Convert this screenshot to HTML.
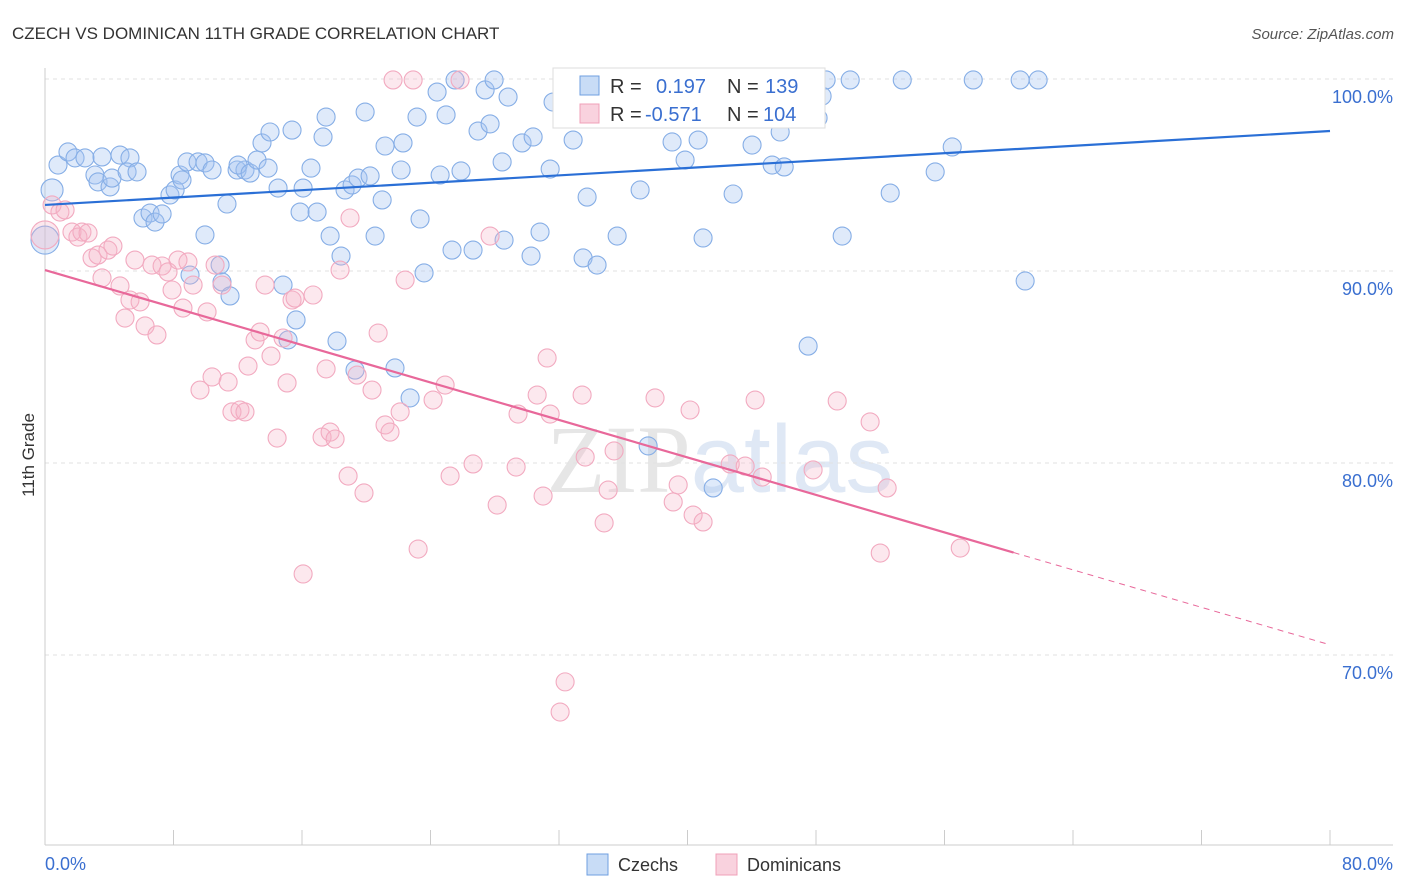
<!DOCTYPE html>
<html><head><meta charset="utf-8">
<style>
body{margin:0;background:#fff;font-family:"Liberation Sans",sans-serif;}
svg{display:block}
</style></head>
<body>
<svg id="chart" width="1406" height="892" viewBox="0 0 1406 892">
<text x="12" y="39" font-size="17" fill="#333">CZECH VS DOMINICAN 11TH GRADE CORRELATION CHART</text>
<text x="1394" y="39" font-size="15" fill="#555" font-style="italic" text-anchor="end">Source: ZipAtlas.com</text>
<text transform="translate(34,455) rotate(-90)" font-size="17" fill="#333" text-anchor="middle">11th Grade</text>
<text x="720" y="492" font-size="96" fill="#e6e6e6" text-anchor="middle" font-family="Liberation Serif,serif">ZIP<tspan fill="#dfe8f5" font-family="Liberation Sans,sans-serif">atlas</tspan></text>
<g id="grid"></g>
<g id="axes"></g>
<g id="points"></g>
<g id="trends"></g>
<g>
<rect x="553" y="68" width="272" height="60" fill="#fff" stroke="#ddd"/>
<rect x="580" y="76" width="19" height="19" fill="rgba(164,196,240,0.6)" stroke="#6f9fe0"/>
<text y="93" font-size="20" fill="#333"><tspan x="610">R =</tspan><tspan x="656" fill="#3a6fd0">0.197</tspan><tspan x="727">N =</tspan><tspan x="765" fill="#3a6fd0">139</tspan></text>
<rect x="580" y="104" width="19" height="19" fill="rgba(245,180,200,0.6)" stroke="#f0a0b8"/>
<text y="121" font-size="20" fill="#333"><tspan x="610">R =</tspan><tspan x="645" fill="#3a6fd0">-0.571</tspan><tspan x="727">N =</tspan><tspan x="763" fill="#3a6fd0">104</tspan></text>
</g>
<g>
<rect x="587" y="854" width="21" height="21" fill="rgba(164,196,240,0.6)" stroke="#6f9fe0"/>
<text x="618" y="871" font-size="18" fill="#333">Czechs</text>
<rect x="716" y="854" width="21" height="21" fill="rgba(245,180,200,0.6)" stroke="#f0a0b8"/>
<text x="747" y="871" font-size="18" fill="#333">Dominicans</text>
</g>
<text x="45" y="870" font-size="18" fill="#3a6fd0">0.0%</text>
<text x="1393" y="870" font-size="18" fill="#3a6fd0" text-anchor="end">80.0%</text>
</svg>
<script>
const yTicks=[100,90,80,70];
const yTickLabels=["100.0%","90.0%","80.0%","70.0%"];
const xTicks=[0,8,16,24,32,40,48,56,64,72,80];
const czechX=[0.44,0,0.81,1.43,1.87,2.49,3.55,4.67,5.29,3.11,3.3,4.05,4.17,5.11,5.73,6.1,6.54,6.85,7.29,7.78,8.1,8.41,8.53,8.84,9.53,9.96,10.4,9.03,9.96,10.9,11.02,11.52,11.33,11.96,12.45,12.02,12.77,13.2,13.51,14.01,13.89,14.51,14.82,15.13,15.38,15.63,15.88,16.07,16.56,16.94,17.31,17.5,17.75,18.18,18.43,18.68,19.12,19.3,19.49,19.93,20.24,20.55,20.99,21.17,21.79,22.29,22.17,22.73,23.16,23.35,23.6,24.41,24.6,24.97,25.34,25.53,25.9,26.65,26.96,27.4,27.71,27.96,28.46,28.58,28.83,29.7,30.26,30.39,30.82,31.45,31.63,32.88,33.5,33.75,34.37,35.62,35.8,37.05,37.55,39.04,39.85,40.66,40.97,41.6,42.03,42.84,44.02,44.52,45.27,45.77,46.02,47.51,48.13,48.38,48.63,49.63,50.13,52.62,53.37,55.42,56.48,57.79,60.71,61.02,61.83];
const czechY=[94.22,91.61,95.52,96.2,95.89,95.89,95.94,96.04,95.89,95.0,94.64,94.38,94.84,95.16,95.16,92.76,93.02,92.55,92.97,93.96,94.22,95.0,94.74,95.68,95.68,95.63,95.26,89.79,91.88,90.31,89.43,88.7,93.49,95.26,95.26,95.52,95.1,95.78,96.67,97.24,95.36,94.32,89.27,86.41,97.34,87.45,93.07,94.32,95.36,93.07,96.98,98.02,91.82,86.35,90.78,94.22,94.48,84.84,94.84,98.28,94.95,91.82,93.7,96.51,84.95,96.67,95.26,83.39,98.02,92.71,89.9,99.32,95.0,98.13,91.09,99.95,95.21,91.09,97.29,99.43,97.66,99.95,95.68,91.61,99.06,96.67,90.78,96.98,92.03,95.31,98.8,96.82,90.68,93.85,90.31,91.82,99.95,94.22,80.89,96.72,95.78,96.82,91.72,78.7,99.95,94.01,96.56,99.95,95.52,97.24,95.42,86.09,97.97,99.11,99.95,91.82,99.95,94.06,99.95,95.16,96.46,99.95,99.95,89.48,99.95];
const domX=[0,0.44,0.93,1.25,1.68,2.05,2.3,2.68,2.93,3.3,3.92,4.23,3.55,4.67,4.98,5.29,5.92,6.23,6.97,5.6,6.66,7.29,7.66,7.91,8.28,8.59,8.9,9.22,9.65,10.09,10.4,10.59,11.02,11.4,11.64,12.14,12.45,12.64,13.08,13.39,13.7,14.07,14.45,14.82,15.07,15.38,15.57,16.07,16.69,17.25,17.5,17.75,18.06,18.37,18.87,18.99,19.43,19.86,20.36,20.74,21.17,21.48,22.11,22.42,23.23,24.16,24.91,25.22,26.65,27.71,28.15,29.33,29.45,30.64,31.01,31.26,31.45,32.38,32.07,33.44,33.63,34.81,35.06,35.43,37.98,39.11,39.42,40.16,40.35,40.97,42.66,43.59,44.21,44.65,47.82,49.32,51.37,52.0,52.43,56.98,21.67,22.92,25.84];
const domY=[91.88,93.44,93.07,93.18,92.03,91.77,92.03,91.98,90.68,90.83,91.09,91.3,89.64,89.22,87.55,88.49,88.39,87.14,86.67,90.57,90.31,90.26,89.95,89.01,90.57,88.07,90.47,89.27,83.8,87.87,84.48,90.31,89.27,84.22,82.66,82.76,82.66,85.05,86.41,86.82,89.27,85.57,81.3,86.51,84.17,88.49,88.59,74.22,88.75,81.35,84.9,81.61,81.25,90.05,79.32,92.76,84.58,78.44,83.8,86.77,81.98,81.61,82.66,89.53,75.52,83.28,84.06,79.32,79.95,91.82,77.81,79.79,82.55,83.54,78.28,85.47,82.55,68.6,67.03,83.54,80.31,76.88,78.59,80.63,83.39,77.97,78.86,82.76,77.29,76.93,79.95,79.84,83.28,79.27,79.64,83.23,82.14,75.31,78.7,75.57,99.95,99.95,99.95];
const czechTrend=[93.44,97.29];
const domTrend=[90.05,70.53];
const domSolidEnd=60.3;

const NS="http://www.w3.org/2000/svg";
const X=v=>45+v*(1285/80);
const Y=v=>79+(100-v)*19.2;
function mk(tag,attrs,parent){const e=document.createElementNS(NS,tag);for(const k in attrs)e.setAttribute(k,attrs[k]);parent.appendChild(e);return e;}
const grid=document.getElementById('grid'),axes=document.getElementById('axes'),pts=document.getElementById('points'),tr=document.getElementById('trends');
yTicks.forEach((t,i)=>{
 const l=mk('line',{x1:45,x2:1393,y1:Y(t),y2:Y(t),stroke:'#e2e2e2','stroke-dasharray':'4,4'},grid);
 
 
 const tx=mk('text',{x:1393,y:Y(t)+24,'font-size':18,fill:'#3a6fd0','text-anchor':'end'},grid);
 tx.textContent=yTickLabels[i];
 
 
});
const ax=mk('line',{x1:45,x2:1393,y1:845,y2:845,stroke:'#ccc'},axes);


const ay=mk('line',{x1:45,x2:45,y1:68,y2:845,stroke:'#ccc'},axes);


xTicks.forEach(t=>{
 const l=mk('line',{x1:X(t),x2:X(t),y1:830,y2:845,stroke:'#ccc'},axes);
 
 
});
czechX.forEach((v,i)=>{
 const r=v===0?14:(i===0?11:9);
 const c=mk('circle',{cx:X(v),cy:Y(czechY[i]),r:r,fill:'rgba(164,196,240,0.35)',stroke:'#86aee6','stroke-width':1.1},pts);
 
 
});
domX.forEach((v,i)=>{
 const r=v===0?14:9;
 const c=mk('circle',{cx:X(v),cy:Y(domY[i]),r:r,fill:'rgba(245,180,200,0.3)',stroke:'#f2aac0','stroke-width':1.1},pts);
 
 
});
const bl=mk('line',{x1:X(0),y1:Y(czechTrend[0]),x2:X(80),y2:Y(czechTrend[1]),stroke:'#2a6fd6','stroke-width':2.2},tr);


const slope=(domTrend[1]-domTrend[0])/80;
const pl=mk('line',{x1:X(0),y1:Y(domTrend[0]),x2:X(domSolidEnd),y2:Y(domTrend[0]+slope*domSolidEnd),stroke:'#e8689a','stroke-width':2.2},tr);


const pd=mk('line',{x1:X(domSolidEnd),y1:Y(domTrend[0]+slope*domSolidEnd),x2:X(80),y2:Y(domTrend[1]),stroke:'#e8689a','stroke-width':1,'stroke-dasharray':'6,5'},tr);


</script>
</body></html>
